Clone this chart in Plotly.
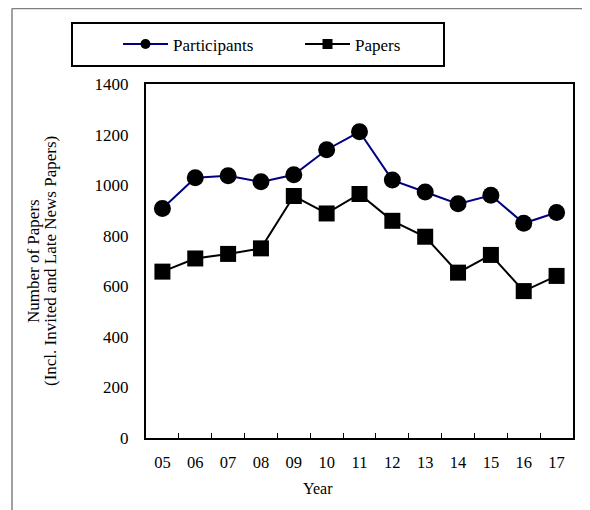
import plotly.graph_objects as go

years = ["05", "06", "07", "08", "09", "10", "11", "12", "13", "14", "15", "16", "17"]
participants = [908, 1029, 1037, 1013, 1041, 1140, 1211, 1020, 973, 926, 960, 849, 892]
papers = [658, 710, 728, 750, 957, 888, 965, 859, 796, 654, 724, 581, 641]
y_ticks = [0, 200, 400, 600, 800, 1000, 1200, 1400]

OFF = 8  # page body margin
W, H = 590 - OFF, 510 - OFF
# plot area in screen pixels
L, R, T, B = 146, 573, 84, 438
pw, ph = R - L, B - T

def px(x):
    return (x - L) / pw

def py(y):
    return (B - y) / ph

FONT = "Liberation Serif, Times New Roman, serif"

fig = go.Figure()
fig.add_trace(go.Scatter(x=years, y=participants, mode="lines+markers", name="Participants",
                         line=dict(color="#000080", width=2),
                         marker=dict(symbol="circle", size=17, color="black"),
                         showlegend=False))
fig.add_trace(go.Scatter(x=years, y=papers, mode="lines+markers", name="Papers",
                         line=dict(color="black", width=2),
                         marker=dict(symbol="square", size=16, color="black"),
                         showlegend=False))
# legend entries
fig.add_trace(go.Scatter(x=[None], y=[None], mode="lines+markers", name="Participants",
                         line=dict(color="#000080", width=2),
                         marker=dict(symbol="circle", size=10, color="black")))
fig.add_trace(go.Scatter(x=[None], y=[None], mode="lines+markers", name="Papers",
                         line=dict(color="black", width=2),
                         marker=dict(symbol="square", size=10, color="black")))

fig.update_layout(
    width=W, height=H,
    margin=dict(l=L - OFF, r=W - (R - OFF), t=T - OFF, b=H - (B - OFF), pad=0),
    paper_bgcolor="white", plot_bgcolor="white",
    font=dict(family=FONT, size=16, color="black"),
    showlegend=True,
    legend=dict(orientation="h", x=px(118), y=py(44.5), xanchor="left", yanchor="middle",
                bgcolor="rgba(0,0,0,0)", borderwidth=0,
                font=dict(family=FONT, size=17, color="black"),
                itemwidth=45, entrywidth=122, entrywidthmode="pixels",
                itemsizing="trace"),
    xaxis=dict(type="category", categoryorder="array", categoryarray=years,
               range=[-0.5, 12.5], showgrid=False, zeroline=False,
               showline=True, linecolor="black", linewidth=2, mirror=True,
               ticks="inside", tickson="boundaries", ticklen=5, tickwidth=1, tickcolor="black",
               tickfont=dict(family=FONT, size=16.5), ticklabelstandoff=8),
    yaxis=dict(range=[0, 1400], tickvals=y_ticks, ticktext=[str(v) for v in y_ticks],
               showgrid=False, zeroline=False,
               showline=True, linecolor="black", linewidth=2, mirror=True,
               ticks="", tickfont=dict(family=FONT, size=17), ticklabelstandoff=12),
    shapes=[
        dict(type="rect", xref="paper", yref="paper", x0=px(72), x1=px(444), y0=py(66), y1=py(23),
             line=dict(color="black", width=2)),
        dict(type="line", xref="paper", yref="paper", x0=px(12), x1=px(600), y0=py(8.5), y1=py(8.5),
             line=dict(color="#808080", width=1.5)),
        dict(type="line", xref="paper", yref="paper", x0=px(12), x1=px(12), y0=py(8.5), y1=py(515),
             line=dict(color="#808080", width=1.5)),
    ],
    annotations=[
        dict(text="Number of Papers", textangle=-90,
             xref="paper", yref="paper", x=px(33), y=py(261), xanchor="center", yanchor="middle",
             showarrow=False, font=dict(family=FONT, size=17, color="black")),
        dict(text="(Incl. Invited and Late News Papers)", textangle=-90,
             xref="paper", yref="paper", x=px(50), y=py(261), xanchor="center", yanchor="middle",
             showarrow=False, font=dict(family=FONT, size=17, color="black")),
        dict(text="Year", xref="paper", yref="paper", x=px(318), y=py(488),
             xanchor="center", yanchor="middle", showarrow=False,
             font=dict(family=FONT, size=16, color="black")),
    ],
)

fig.write_html("out.html")
